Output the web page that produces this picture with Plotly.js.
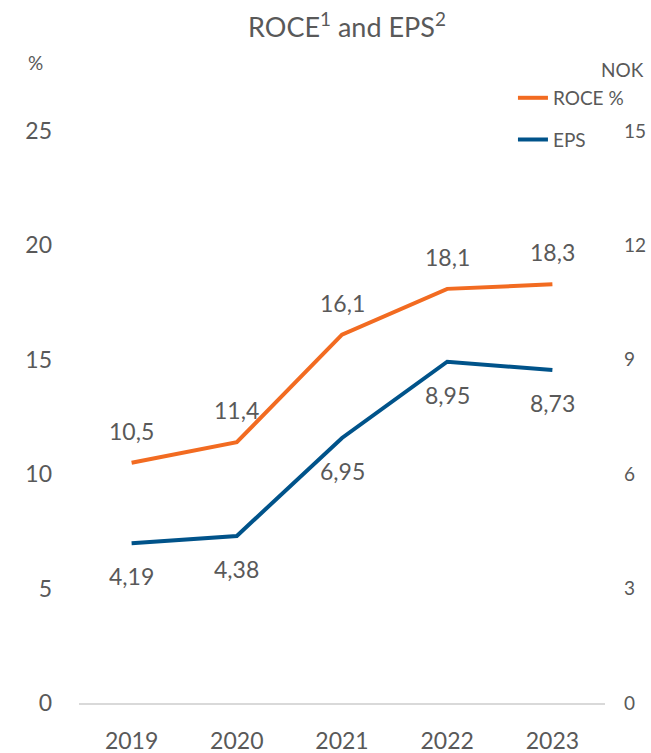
<!DOCTYPE html>
<html>
<head>
<meta charset="utf-8">
<script src="https://cdn.plot.ly/plotly-3.0.1.min.js"></script>
<style>html,body{margin:0;padding:0;background:#fff;}#chart{width:651px;height:753px;}</style>
</head>
<body>
<div id="chart"></div>
<script>
const years = ["2019", "2020", "2021", "2022", "2023"];
const roce = [10.5, 11.4, 16.1, 18.1, 18.3];
const eps = [4.19, 4.38, 6.95, 8.95, 8.73];
const leftTicks = [0, 5, 10, 15, 20, 25];
const rightTicks = [0, 3, 6, 9, 12, 15];

const FONT = "Lato, 'Open Sans', sans-serif";
const GREY = "#595959";
const ORANGE = "#F26B21";
const BLUE = "#00538A";

const fmt = v => String(v).replace(".", ",");

const traces = [
  {
    x: years, y: roce, name: "ROCE %", type: "scatter", mode: "lines",
    line: {color: ORANGE, width: 4},
    legendgroup: "a", yaxis: "y", hoverinfo: "skip"
  },
  {
    x: years, y: eps, name: "EPS", type: "scatter", mode: "lines",
    line: {color: BLUE, width: 4},
    legendgroup: "b", yaxis: "y2", hoverinfo: "skip"
  }
];

const labelFont = {family: FONT, size: 23, color: GREY};
const annotations = [];
years.forEach((yr, i) => {
  annotations.push({x: i, y: roce[i], xref: "x", yref: "y", text: fmt(roce[i]),
    showarrow: false, yshift: 32, font: labelFont});
  annotations.push({x: i, y: eps[i], xref: "x", yref: "y2", text: fmt(eps[i]),
    showarrow: false, yshift: -33, font: labelFont});
});
annotations.push(
  {text: "%", xref: "paper", yref: "paper", x: -0.082, y: 1.12, xanchor: "center", yanchor: "middle",
   showarrow: false, font: {family: FONT, size: 19, color: GREY}},
  {text: "NOK", xref: "paper", yref: "paper", x: 1.078, y: 1.107, xanchor: "right", yanchor: "middle",
   showarrow: false, font: {family: FONT, size: 19, color: GREY}}
);

const layout = {
  width: 651, height: 753,
  margin: {l: 79, r: 46, t: 131, b: 50},
  paper_bgcolor: "#fff", plot_bgcolor: "#fff",
  separators: ", ",
  font: {family: FONT, color: GREY},
  title: {text: "ROCE<sup>1</sup> and EPS<sup>2</sup>", font: {family: FONT, size: 27, color: GREY},
          x: 0.533, xanchor: "center", y: 0.963, yanchor: "middle"},
  xaxis: {
    type: "category", range: [-0.5, 4.5], showgrid: false, zeroline: false, showline: true,
    linecolor: "#D9D9D9", linewidth: 1.5, ticks: "",
    tickfont: {family: FONT, size: 23, color: GREY}, ticklabelstandoff: 17
  },
  yaxis: {
    range: [0, 25], tickvals: leftTicks, showgrid: false, zeroline: false, showline: false,
    tickfont: {family: FONT, size: 23, color: GREY}, ticklabelstandoff: 26
  },
  yaxis2: {
    range: [0, 15], tickvals: rightTicks, overlaying: "y", side: "right",
    showgrid: false, zeroline: false, showline: false,
    tickfont: {family: FONT, size: 19, color: GREY}, ticklabelstandoff: 18
  },
  showlegend: true,
  legend: {
    x: 0.825, y: 1.091, xanchor: "left", yanchor: "top",
    font: {family: FONT, size: 19, color: GREY},
    tracegroupgap: 14, bgcolor: "rgba(0,0,0,0)"
  },
  annotations: annotations
};

Plotly.newPlot("chart", traces, layout, {displayModeBar: false});
</script>
</body>
</html>
